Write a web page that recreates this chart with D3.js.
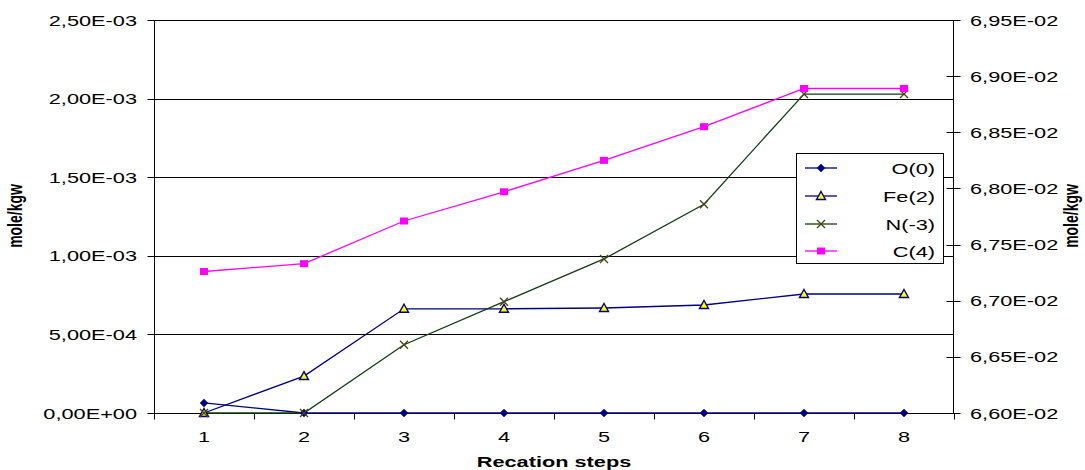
<!DOCTYPE html>
<html><head><meta charset="utf-8">
<script src="https://cdn.jsdelivr.net/npm/d3@7"></script>
<style>
html,body{margin:0;padding:0;background:#fff;}
svg{display:block;font-family:"Liberation Sans",Arial,sans-serif;}
</style></head>
<body>
<svg id="chart" width="1085" height="470"></svg>
<script>
// ---- data ----
const steps = [1, 2, 3, 4, 5, 6, 7, 8];
const O0  = [6.4e-5, 0, 0, 0, 0, 0, 0, 0];
const Fe2 = [0, 2.35e-4, 6.63e-4, 6.63e-4, 6.68e-4, 6.87e-4, 7.57e-4, 7.57e-4];
const N3  = [0, 0, 4.34e-4, 7.08e-4, 9.80e-4, 1.328e-3, 2.029e-3, 2.029e-3];
const C4  = [6.726e-2, 6.733e-2, 6.771e-2, 6.797e-2, 6.825e-2, 6.855e-2, 6.889e-2, 6.889e-2];
const leftTicks  = [0, 5e-4, 1e-3, 1.5e-3, 2e-3, 2.5e-3];
const rightTicks = [0.066, 0.0665, 0.067, 0.0675, 0.068, 0.0685, 0.069, 0.0695];
const seriesNames = ["O(0)", "Fe(2)", "N(-3)", "C(4)"];
const xTitle = "Recation steps";
const yTitle = "mole/kgw";

// ---- layout ----
const L = 154, R = 954, T = 20, B = 413;
const SX = 1.45; // horizontal glyph stretch of the reference
const svg = d3.select("#chart");

const x = d3.scaleBand().domain(steps).range([L, R]);
const yL = d3.scaleLinear().domain([0, 2.5e-3]).range([B, T]);
const yR = d3.scaleLinear().domain([0.066, 0.0695]).range([B, T]);

const fmt = v => {
  const s = (+v).toExponential(2); // e.g. 2.50e-3
  const [m, e] = s.split("e");
  const sign = e[0] === "-" ? "-" : "+";
  const ex = e.replace(/[+-]/, "").padStart(2, "0");
  return m.replace(".", ",") + "E" + sign + ex;
};

function stretchedText(g, str, px, py, anchor, opts = {}) {
  const t = g.append("text")
    .attr("transform", `translate(${px},${py}) ${opts.rotate ? "rotate(-90) scale(1," + SX + ")" : "scale(" + SX + ",1)"}`)
    .attr("text-anchor", anchor)
    .attr("font-size", opts.size || 15)
    .attr("font-weight", opts.bold ? "bold" : "normal")
    .attr("fill", "#000")
    .text(str);
  return t;
}

// gridlines
const grid = svg.append("g");
grid.selectAll("line").data(leftTicks).join("line")
  .attr("x1", L).attr("x2", R)
  .attr("y1", d => Math.round(yL(d)) + 0.5).attr("y2", d => Math.round(yL(d)) + 0.5)
  .attr("stroke", "#000").attr("stroke-width", 1);

// left axis
const gl = svg.append("g").attr("transform", `translate(${L + 0.5},0)`);
gl.call(d3.axisLeft(yL).tickValues(leftTicks).tickSize(7).tickFormat(""));
gl.select(".domain").attr("d", `M0,${T}V${B + 5}`).attr("stroke", "#000");
gl.selectAll(".tick line").attr("stroke", "#000");
gl.selectAll(".tick").attr("transform", d => `translate(0,${Math.round(yL(d)) + 0.5})`);
const glt = svg.append("g");
leftTicks.forEach(v => stretchedText(glt, fmt(v), 137, yL(v) + 5.5, "end"));

// right axis
const gr = svg.append("g").attr("transform", `translate(${R - 0.5},0)`);
gr.call(d3.axisRight(yR).tickValues(rightTicks).tickSize(7).tickFormat(""));
gr.select(".domain").attr("d", `M0,${T}V${B}`).attr("stroke", "#000");
gr.selectAll(".tick line").attr("x1", -7).attr("x2", 7).attr("stroke", "#000");
gr.selectAll(".tick").attr("transform", d => `translate(0,${Math.round(yR(d)) + 0.5})`);
const grt = svg.append("g");
rightTicks.forEach(v => stretchedText(grt, fmt(v), 970, yR(v) + 5.5, "start"));

// x axis
const gx = svg.append("g").attr("transform", `translate(0,${B + 0.5})`);
const bounds = [L].concat(steps.map(s => x(s) + x.bandwidth()));
gx.append("line").attr("x1", L).attr("x2", R).attr("stroke", "#000");
gx.selectAll("line.tk").data(bounds).join("line").attr("class", "tk")
  .attr("x1", d => Math.round(d) + 0.5).attr("x2", d => Math.round(d) + 0.5)
  .attr("y1", 0).attr("y2", 6).attr("stroke", "#000");
const gxt = svg.append("g");
steps.forEach(s => stretchedText(gxt, String(s), x(s) + x.bandwidth() / 2, 442, "middle"));

// titles
stretchedText(svg, xTitle, (L + R) / 2, 467, "middle", { bold: true });
stretchedText(svg, yTitle, 22, 216, "middle", { bold: true, rotate: true, size: 14 });
stretchedText(svg, yTitle, 1078, 216, "middle", { bold: true, rotate: true, size: 14 });

// series
const cx = s => x(s) + x.bandwidth() / 2;
const series = [
  { name: seriesNames[0], vals: O0, y: yL, line: "#000080", marker: "diamond", fill: "#000080", stroke: "#000080" },
  { name: seriesNames[1], vals: Fe2, y: yL, line: "#000080", marker: "triangle", fill: "#ffff00", stroke: "#000080" },
  { name: seriesNames[2], vals: N3, y: yL, line: "#0f3f0f", marker: "x", fill: "none", stroke: "#4a4214" },
  { name: seriesNames[3], vals: C4, y: yR, line: "#ff00ff", marker: "square", fill: "#ff00ff", stroke: "#ff00ff" }
];

function drawMarker(g, type, px, py, fill, stroke) {
  if (type === "diamond") {
    g.append("path").attr("d", `M${px},${py - 4}L${px + 4},${py}L${px},${py + 4}L${px - 4},${py}Z`)
      .attr("fill", fill).attr("stroke", stroke).attr("stroke-width", 0.5);
  } else if (type === "triangle") {
    g.append("path").attr("d", `M${px},${py - 4.5}L${px + 4.5},${py + 3.5}L${px - 4.5},${py + 3.5}Z`)
      .attr("fill", fill).attr("stroke", stroke).attr("stroke-width", 1.4);
  } else if (type === "x") {
    g.append("path").attr("d", `M${px - 4},${py - 4}L${px + 4},${py + 4}M${px + 4},${py - 4}L${px - 4},${py + 4}`)
      .attr("fill", "none").attr("stroke", stroke).attr("stroke-width", 1.3);
  } else if (type === "square") {
    g.append("rect").attr("x", px - 4).attr("y", py - 3.5).attr("width", 8).attr("height", 7)
      .attr("fill", fill);
  }
}

const gs = svg.append("g");
series.forEach(sr => {
  const line = d3.line().x((d, i) => cx(steps[i])).y(d => sr.y(d));
  gs.append("path").datum(sr.vals).attr("d", line)
    .attr("fill", "none").attr("stroke", sr.line).attr("stroke-width", 1.3);
});
series.forEach(sr => {
  sr.vals.forEach((v, i) => drawMarker(gs, sr.marker, cx(steps[i]), sr.y(v), sr.fill, sr.stroke));
});

// legend
const lg = svg.append("g");
lg.append("rect").attr("x", 796.5).attr("y", 153.5).attr("width", 147).attr("height", 110)
  .attr("fill", "#fff").attr("stroke", "#000").attr("stroke-width", 1);
const rowY = [168, 196, 224, 251];
series.forEach((sr, i) => {
  const yy = rowY[i];
  lg.append("line").attr("x1", 805).attr("x2", 837).attr("y1", yy).attr("y2", yy)
    .attr("stroke", sr.line).attr("stroke-width", 1.3);
  drawMarker(lg, sr.marker, 821, yy, sr.fill, sr.stroke);
  stretchedText(lg, sr.name, 935, yy + 5.5, "end");
});
</script>
</body></html>
